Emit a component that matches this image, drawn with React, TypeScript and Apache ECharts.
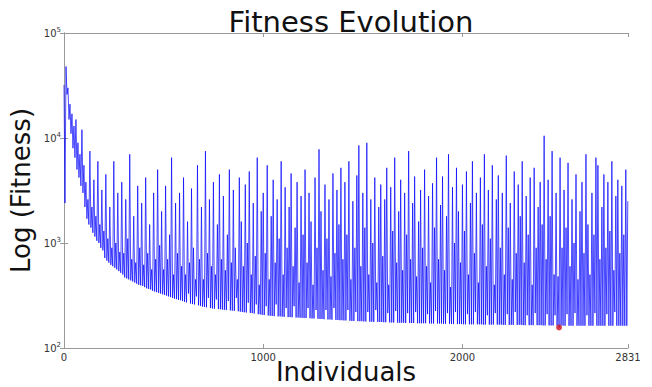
import React, { useEffect, useRef } from "react";
import * as echarts from "echarts";

// Sampling interval (individuals between stored fitness readings)
const individualStep = 5;

// Fitness values, one every `individualStep` individuals (rows of 100 individuals)
const fitness: number[] = [
  32000, 2400, 48000, 26000, 30000, 15000, 21000, 11000, 17000, 8000, 13000, 6500, 15000, 5000, 9000, 4200, 7000, 3500, 12000, 3000,
  5500, 2200, 3800, 1700, 2600, 1500, 7500, 1400, 2200, 1250, 4000, 1150, 1800, 1050, 6000, 1000, 1500, 900, 3200, 850,
  1300, 720, 4500, 680, 1100, 650, 2200, 620, 900, 600, 6000, 580, 1000, 560, 3000, 540, 820, 520, 3800, 500,
  800, 470, 2600, 460, 1100, 450, 7000, 440, 700, 430, 1800, 420, 650, 410, 3500, 400, 900, 395, 2400, 390,
  620, 380, 4200, 370, 800, 365, 1500, 360, 560, 350, 3000, 345, 700, 340, 5000, 335, 950, 330, 2000, 325,
  560, 320, 3500, 315, 700, 310, 1200, 305, 6500, 300, 500, 295, 2400, 292, 800, 288, 3000, 285, 600, 280,
  4200, 275, 500, 272, 1600, 330, 650, 265, 3300, 262, 900, 260, 450, 310, 5500, 255, 700, 252, 2200, 248,
  450, 246, 7500, 244, 800, 300, 2600, 240, 600, 238, 3800, 237, 500, 290, 1500, 235, 4500, 234, 700, 232,
  2800, 231, 550, 230, 1200, 280, 5000, 228, 650, 227, 3200, 226, 900, 300, 450, 224, 4200, 222, 1600, 220,
  600, 219, 3600, 218, 1000, 270, 4800, 216, 500, 215, 2400, 213, 750, 260, 6500, 210, 400, 209, 2000, 207,
  3000, 206, 800, 250, 5500, 204, 450, 203, 1800, 202, 4000, 201, 650, 260, 2600, 200, 1100, 200, 6000, 199,
  500, 198, 3400, 240, 900, 197, 2200, 197, 4600, 196, 600, 250, 1400, 195, 3800, 195, 420, 194, 2800, 194,
  1200, 193, 5000, 193, 650, 240, 3000, 192, 1600, 191, 400, 191, 4200, 230, 900, 190, 7800, 189, 2000, 189,
  550, 188, 3600, 230, 1100, 187, 2600, 187, 480, 186, 4600, 240, 800, 185, 3200, 185, 1500, 184, 5200, 184,
  700, 183, 3800, 183, 1200, 230, 6000, 182, 450, 181, 2500, 181, 900, 220, 4400, 180, 8500, 180, 600, 180,
  3000, 179, 1400, 179, 9000, 220, 500, 178, 2600, 178, 1000, 177, 4200, 230, 420, 177, 2200, 177, 3600, 177,
  750, 176, 2600, 176, 5200, 215, 400, 175, 3400, 175, 1300, 175, 6500, 225, 650, 174, 2000, 174, 4000, 174,
  550, 174, 3000, 173, 1200, 215, 7500, 173, 700, 173, 2400, 173, 4300, 220, 480, 172, 1600, 172, 3200, 172,
  900, 172, 5000, 172, 600, 210, 2800, 171, 420, 171, 3700, 171, 1400, 225, 6500, 171, 700, 171, 2300, 171,
  4300, 170, 550, 170, 1800, 215, 7000, 170, 380, 169, 3400, 169, 1000, 220, 5200, 169, 2000, 169, 650, 169,
  3600, 168, 1300, 168, 4800, 210, 500, 168, 2400, 168, 6000, 168, 800, 220, 3000, 168, 420, 168, 4200, 168,
  1500, 167, 7000, 167, 600, 205, 3200, 167, 1100, 167, 5500, 167, 400, 215, 2600, 167, 4400, 167, 900, 167,
  3000, 166, 500, 166, 6800, 210, 1400, 166, 2400, 166, 450, 166, 4800, 220, 800, 166, 3600, 166, 1800, 166,
  6000, 165, 650, 165, 2800, 205, 1200, 165, 4200, 165, 400, 165, 5200, 215, 900, 165, 2200, 165, 3800, 165,
  1500, 164, 10500, 164, 700, 210, 4000, 164, 1800, 164, 7500, 164, 500, 205, 3000, 164, 480, 157, 6500, 164,
  900, 163, 3200, 163, 1400, 210, 5800, 163, 600, 163, 2600, 163, 1000, 215, 4500, 163, 450, 163, 2000, 163,
  3800, 163, 800, 163, 7000, 205, 1500, 163, 500, 163, 3000, 163, 1200, 215, 6500, 163, 5500, 163, 700, 163,
  2200, 163, 4500, 163, 900, 210, 3800, 163, 1300, 163, 6000, 163, 550, 220, 2800, 163, 4000, 163, 800, 163,
  3500, 163, 1200, 163, 5000, 163, 2500,
];

// Best individual (red marker)
const bestIndividual = [2485];
const bestFitness = [157];

// Axis ticks
const xTicks = [0, 1000, 2000, 2831];
const yTicks = [100, 1000, 10000, 100000];
const xMax = 2831;

const FONT = "DejaVu Sans";

export default function App() {
  const ref = useRef<HTMLDivElement>(null);

  useEffect(() => {
    if (!ref.current) return;
    const chart = echarts.init(ref.current, undefined, { renderer: "svg" });
    const lineData = fitness.map((v, i) => [i * individualStep, v]);
    const bestData = bestIndividual.map((x, i) => [x, bestFitness[i]]);
    const axisColor = "#999";
    const supLabel = (v: number) => `{b|10}{s|${Math.round(Math.log10(v))}}`;

    chart.setOption({
      animation: false,
      backgroundColor: "#ffffff",
      title: {
        text: "Fitness Evolution",
        left: 346,
        textAlign: "center",
        top: 2,
        textStyle: { fontFamily: FONT, fontSize: 29, fontWeight: "normal", color: "#111" },
      },
      grid: { left: 64, right: 24, top: 33, bottom: 39, outerBoundsMode: "none", containLabel: false },
      xAxis: [
        {
          type: "value",
          min: 0,
          max: xMax,
          name: "Individuals",
          nameLocation: "middle",
          nameGap: 11,
          nameMoveOverlap: false,
          nameTextStyle: { fontFamily: FONT, fontSize: 26, color: "#111" },
          axisLine: { show: true, lineStyle: { color: axisColor, width: 1 } },
          axisTick: { show: true, inside: true, length: 4, customValues: xTicks, lineStyle: { color: axisColor } },
          axisLabel: {
            customValues: xTicks,
            formatter: (v: number) => String(v),
            fontFamily: FONT,
            fontSize: 10,
            color: "#333",
            margin: 4,
          },
          splitLine: { show: false },
        },
        {
          type: "value",
          position: "top",
          min: 0,
          max: xMax,
          axisLine: { show: true, lineStyle: { color: axisColor, width: 1 } },
          axisTick: { show: true, inside: true, length: 4, customValues: xTicks, lineStyle: { color: axisColor } },
          axisLabel: { show: false },
          splitLine: { show: false },
        },
      ],
      yAxis: [
        {
          type: "log",
          logBase: 10,
          min: 100,
          max: 100000,
          name: "Log (Fitness)",
          nameLocation: "middle",
          nameGap: 30,
          nameMoveOverlap: false,
          nameTextStyle: { fontFamily: FONT, fontSize: 26, color: "#111" },
          axisLine: { show: true, lineStyle: { color: axisColor, width: 1 } },
          axisTick: { show: true, inside: true, length: 4, customValues: yTicks, lineStyle: { color: axisColor } },
          axisLabel: {
            customValues: yTicks,
            margin: 3,
            formatter: supLabel,
            rich: {
              b: { fontFamily: FONT, fontSize: 10, color: "#333" },
              s: { fontFamily: FONT, fontSize: 7, color: "#333", padding: [0, 0, 7, 0] },
            },
          },
          splitLine: { show: false },
        },
        {
          type: "log",
          logBase: 10,
          position: "right",
          min: 100,
          max: 100000,
          axisLine: { show: true, lineStyle: { color: axisColor, width: 1 } },
          axisTick: { show: true, inside: true, length: 4, customValues: yTicks, lineStyle: { color: axisColor } },
          axisLabel: { show: false },
          splitLine: { show: false },
        },
      ],
      series: [
        {
          type: "line",
          xAxisIndex: 0,
          yAxisIndex: 0,
          data: lineData,
          showSymbol: false,
          symbol: "none",
          lineStyle: { color: "#0000ff", width: 0.7 },
          z: 2,
        },
        {
          type: "scatter",
          xAxisIndex: 0,
          yAxisIndex: 0,
          data: bestData,
          symbolSize: 6,
          itemStyle: { color: "#cc1122" },
          z: 3,
        },
      ],
    });
    return () => chart.dispose();
  }, []);

  return <div ref={ref} style={{ width: 652, height: 387, position: "absolute", left: 0, top: 0 }} />;
}
